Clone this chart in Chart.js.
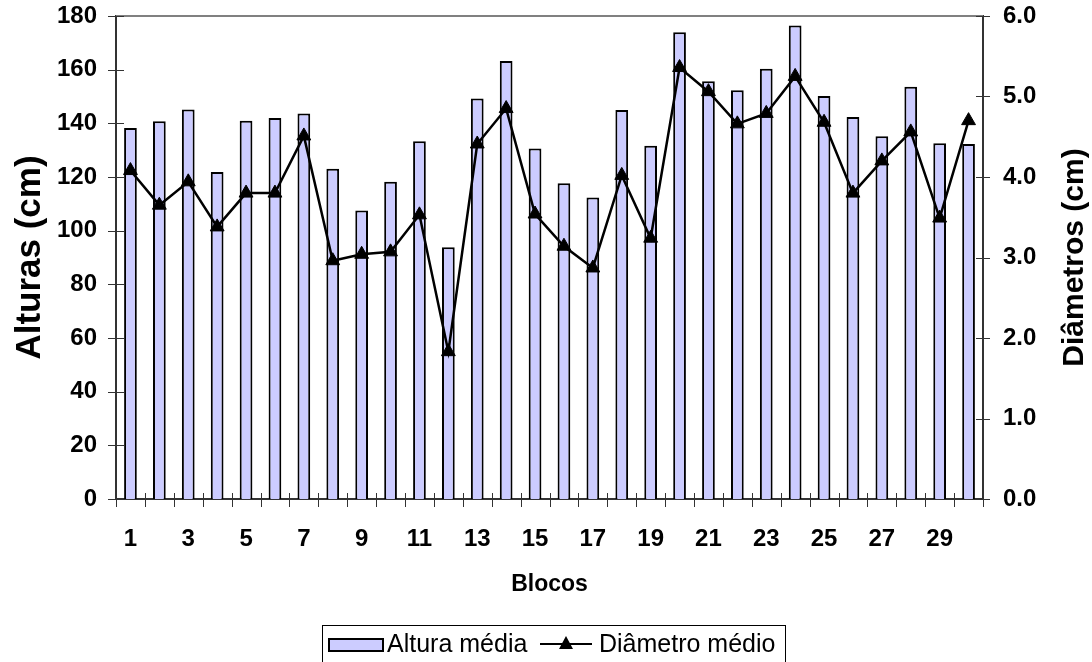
<!DOCTYPE html>
<html>
<head>
<meta charset="utf-8">
<script src="https://cdn.jsdelivr.net/npm/chart.js@4.4.1/dist/chart.umd.min.js"></script>
<style>
  html, body { margin: 0; padding: 0; background: #fff; }
  #wrap { width: 1092px; height: 662px; }
</style>
</head>
<body>
<div id="wrap"><canvas id="chart" width="1092" height="662"></canvas></div>
<script>
const blocos = ['1','2','3','4','5','6','7','8','9','10','11','12','13','14','15',
  '16','17','18','19','20','21','22','23','24','25','26','27','28','29','30'];
const alturaMedia = [138.3, 140.8, 145.2, 121.9, 141.0, 142.0, 143.7, 123.1, 107.5, 118.2,
  133.3, 93.8, 149.3, 163.2, 130.6, 117.7, 112.4, 145.0, 131.6, 173.9,
  155.7, 152.3, 160.3, 176.5, 150.2, 142.4, 135.2, 153.6, 132.6, 132.3];
const diametroMedio = [4.08, 3.65, 3.94, 3.38, 3.80, 3.80, 4.51, 2.96, 3.04, 3.07,
  3.53, 1.83, 4.41, 4.85, 3.54, 3.14, 2.87, 4.02, 3.24, 5.36,
  5.06, 4.66, 4.79, 5.25, 4.68, 3.80, 4.20, 4.56, 3.49, 4.70];
const xTickLabels = ['1','3','5','7','9','11','13','15','17','19','21','23','25','27','29'];

const FONT = "'Liberation Sans', Arial, sans-serif";
const AXIS = '#333333';

// fixed box sizes so the plot area lands where the reference has it
const fitVertical = (w) => (s) => {
  s.width = w;
  s.paddingTop = 0;
  s.paddingBottom = 0;
};

/* ---------- extras: crossing ticks, top border, right title, legend ---------- */
const extras = {
  id: 'extras',
  beforeDatasetsDraw(chart) {
    const { ctx, chartArea: a, scales } = chart;
    ctx.save();
    ctx.strokeStyle = '#808080';
    ctx.lineWidth = 2;
    ctx.beginPath();
    ctx.moveTo(a.left, a.top);
    ctx.lineTo(a.right, a.top);
    ctx.stroke();

    ctx.strokeStyle = AXIS;
    ctx.lineWidth = 1;
    ctx.beginPath();
    scales.y.ticks.forEach(t => {
      const y = Math.round(scales.y.getPixelForValue(t.value)) + 0.5;
      ctx.moveTo(a.left - 8, y);
      ctx.lineTo(a.left + 8, y);
    });
    scales.y1.ticks.forEach(t => {
      const y = Math.round(scales.y1.getPixelForValue(t.value)) + 0.5;
      ctx.moveTo(a.right - 7, y);
      ctx.lineTo(a.right + 7, y);
    });
    const n = blocos.length;
    for (let i = 0; i <= n; i++) {
      const x = Math.round(a.left + i * (a.right - a.left) / n) + 0.5;
      ctx.moveTo(x, a.bottom - 6);
      ctx.lineTo(x, a.bottom + 8);
    }
    ctx.stroke();
    ctx.restore();
  },
  afterDraw(chart) {
    const { ctx, chartArea: a } = chart;
    ctx.save();
    // right axis title, reads bottom to top
    ctx.translate(1075, (a.top + a.bottom) / 2);
    ctx.rotate(-Math.PI / 2);
    ctx.font = `bold 30px ${FONT}`;
    ctx.fillStyle = '#000';
    ctx.textAlign = 'center';
    ctx.textBaseline = 'middle';
    ctx.fillText('Diâmetros (cm)', 0, 0);
    ctx.restore();

    // legend
    ctx.save();
    ctx.strokeStyle = '#000';
    ctx.lineWidth = 1;
    ctx.strokeRect(322.5, 625.5, 463, 50);
    ctx.fillStyle = '#CCCCFF';
    ctx.fillRect(329, 639, 54, 12);
    ctx.lineWidth = 2;
    ctx.strokeRect(329, 639, 54, 12);
    ctx.beginPath();
    ctx.moveTo(540, 644);
    ctx.lineTo(592, 644);
    ctx.stroke();
    ctx.fillStyle = '#000';
    ctx.beginPath();
    ctx.moveTo(566, 636);
    ctx.lineTo(573, 649);
    ctx.lineTo(559, 649);
    ctx.closePath();
    ctx.fill();
    ctx.font = `25px ${FONT}`;
    ctx.textBaseline = 'alphabetic';
    ctx.fillText('Altura média', 387, 652);
    ctx.fillText('Diâmetro médio', 599, 652);
    ctx.restore();
  }
};

new Chart(document.getElementById('chart'), {
  data: {
    labels: blocos,
    datasets: [
      {
        type: 'line',
        label: 'Diâmetro médio',
        data: diametroMedio,
        yAxisID: 'y1',
        order: 0,
        borderColor: '#000',
        borderWidth: 2.5,
        tension: 0,
        pointStyle: 'triangle',
        pointRadius: 8,
        pointBackgroundColor: '#000',
        pointBorderColor: '#000',
        pointBorderWidth: 1
      },
      {
        type: 'bar',
        label: 'Altura média',
        data: alturaMedia,
        yAxisID: 'y',
        order: 1,
        backgroundColor: '#CCCCFF',
        borderColor: '#000',
        borderWidth: 2,
        categoryPercentage: 1,
        barPercentage: 0.44
      }
    ]
  },
  options: {
    responsive: false,
    animation: false,
    layout: { padding: { top: 16, left: 0, right: 0, bottom: 0 } },
    plugins: { legend: { display: false }, tooltip: { enabled: false } },
    scales: {
      x: {
        offset: true,
        grid: { display: false, drawTicks: false },
        border: { display: true, color: AXIS, width: 2 },
        ticks: {
          autoSkip: false,
          maxRotation: 0,
          padding: 26,
          color: '#000',
          font: { family: FONT, size: 24, weight: 'bold' },
          callback: function (v) {
            const l = this.getLabelForValue(v);
            return xTickLabels.includes(l) ? l : '';
          }
        },
        title: {
          display: true,
          text: 'Blocos',
          color: '#000',
          font: { family: FONT, size: 23, weight: 'bold' },
          padding: { top: 0, bottom: 64 }
        },
        afterFit: s => { s.height = 163; }
      },
      y: {
        position: 'left',
        min: 0,
        max: 180,
        grid: { display: false, drawTicks: false },
        border: { display: true, color: AXIS, width: 2 },
        ticks: {
          stepSize: 20,
          padding: 19,
          color: '#000',
          font: { family: FONT, size: 24, weight: 'bold' }
        },
        title: {
          display: true,
          text: 'Alturas (cm)',
          color: '#000',
          font: { family: FONT, size: 35, weight: 'bold' },
          padding: { top: 9, bottom: 0 }
        },
        afterFit: fitVertical(116)
      },
      y1: {
        position: 'right',
        min: 0,
        max: 6,
        grid: { display: false, drawTicks: false },
        border: { display: true, color: AXIS, width: 2 },
        ticks: {
          stepSize: 1,
          padding: 20,
          color: '#000',
          font: { family: FONT, size: 24, weight: 'bold' },
          callback: v => Number(v).toFixed(1)
        },
        afterFit: fitVertical(109)
      }
    }
  },
  plugins: [extras]
});
</script>
</body>
</html>
